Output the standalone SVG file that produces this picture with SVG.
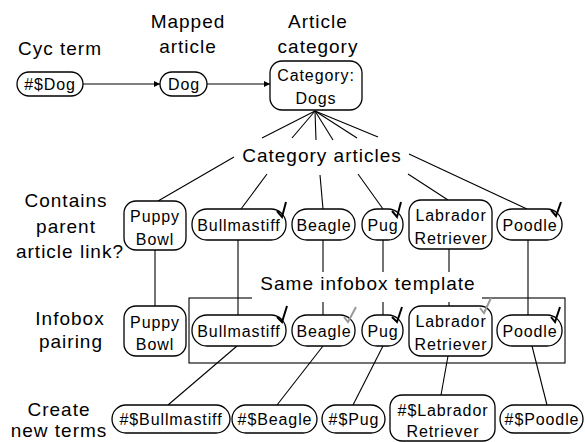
<svg xmlns="http://www.w3.org/2000/svg" width="585" height="442" viewBox="0 0 585 442">
<defs>
<style>
.lbl{font-family:"Liberation Sans",Arial,sans-serif;font-size:19px;letter-spacing:1px;fill:#000;text-anchor:middle}
.nt{font-family:"Liberation Sans",Arial,sans-serif;font-size:16px;letter-spacing:0.9px;fill:#000;text-anchor:middle}
.box{fill:#fff;stroke:#000;stroke-width:1.3}
.ln{stroke:#000;stroke-width:1.1;fill:none}
.tk{stroke:#000;stroke-width:2;fill:none;stroke-linejoin:miter}
.tkg{stroke:#999;stroke-width:2;fill:none}
</style>
<marker id="ah" viewBox="0 0 8 8" refX="8" refY="4" markerWidth="6" markerHeight="6" orient="auto" markerUnits="userSpaceOnUse">
<path d="M0,0 L8,4 L0,8 z" fill="#000"/>
</marker>
</defs>
<rect width="585" height="442" fill="#fff"/>

<g id="labels">
<text class="lbl" x="60" y="55">Cyc term</text>
<text class="lbl" x="188" y="28">Mapped</text>
<text class="lbl" x="188" y="53">article</text>
<text class="lbl" x="318" y="28">Article</text>
<text class="lbl" x="318" y="53">category</text>
<text class="lbl" x="66" y="207">Contains</text>
<text class="lbl" x="66" y="233">parent</text>
<text class="lbl" x="70" y="258">article link?</text>
<text class="lbl" x="70" y="325">Infobox</text>
<text class="lbl" x="71" y="348">pairing</text>
<text class="lbl" x="59" y="416">Create</text>
<text class="lbl" x="59" y="437">new terms</text>
</g>

<g id="connectors">
<line class="ln" x1="83" y1="84" x2="160" y2="84" marker-end="url(#ah)"/>
<line class="ln" x1="207" y1="84" x2="270" y2="84" marker-end="url(#ah)"/>
<line class="ln" x1="315" y1="111" x2="262" y2="138"/>
<line class="ln" x1="315" y1="111" x2="292" y2="138"/>
<line class="ln" x1="315" y1="111" x2="316" y2="140"/>
<line class="ln" x1="315" y1="111" x2="333" y2="140"/>
<line class="ln" x1="315" y1="111" x2="357" y2="138"/>
<line class="ln" x1="315" y1="111" x2="378" y2="137"/>
<line class="ln" x1="234" y1="157" x2="158" y2="201"/>
<line class="ln" x1="267" y1="174" x2="241" y2="209"/>
<line class="ln" x1="320" y1="175" x2="323" y2="209"/>
<line class="ln" x1="358" y1="174" x2="383" y2="209"/>
<line class="ln" x1="408" y1="174" x2="448" y2="200"/>
<line class="ln" x1="409" y1="154" x2="527" y2="209"/>
<line class="ln" x1="155" y1="250" x2="155" y2="306"/>
<line class="ln" x1="238" y1="240" x2="238" y2="315"/>
<line class="ln" x1="323" y1="240" x2="323" y2="315"/>
<line class="ln" x1="383" y1="240" x2="383" y2="315"/>
<line class="ln" x1="449" y1="249" x2="449" y2="306"/>
<line class="ln" x1="528" y1="240" x2="528" y2="315"/>
<rect class="ln" x="189" y="298" width="376" height="65"/>
<line class="ln" x1="237" y1="346" x2="168" y2="405"/>
<line class="ln" x1="323" y1="346" x2="277" y2="405"/>
<line class="ln" x1="383" y1="346" x2="353" y2="405"/>
<line class="ln" x1="448" y1="356" x2="441" y2="395"/>
<line class="ln" x1="532" y1="346" x2="547" y2="405"/>
</g>

<g id="category-articles-label">
<text class="lbl" x="322" y="162">Category articles</text>
</g>
<g id="same-infobox-label">
<rect x="252" y="272" width="230" height="30" fill="#fff"/>
<text class="lbl" x="368" y="290">Same infobox template</text>
</g>

<g id="n-cycdog"><rect class="box" x="17" y="72" width="66" height="24" rx="12"/><text class="nt" x="50" y="90">#$Dog</text></g>
<g id="n-dog"><rect class="box" x="160" y="72" width="47" height="24" rx="12"/><text class="nt" x="184" y="90">Dog</text></g>
<g id="n-catdogs"><rect class="box" x="270" y="61" width="92" height="49" rx="12"/><text class="nt" x="316" y="81">Category:</text><text class="nt" x="316" y="104">Dogs</text></g>

<g id="n-puppy1"><rect class="box" x="124" y="201" width="62" height="49" rx="12"/><text class="nt" x="155" y="222">Puppy</text><text class="nt" x="155" y="245">Bowl</text></g>
<g id="n-bull1"><rect class="box" x="192" y="209" width="94" height="31" rx="15"/><text class="nt" x="239" y="231">Bullmastiff</text><polyline class="tk" points="277,211 282,217 286,202"/></g>
<g id="n-beagle1"><rect class="box" x="292" y="209" width="63" height="31" rx="15"/><text class="nt" x="324" y="231">Beagle</text></g>
<g id="n-pug1"><rect class="box" x="362" y="209" width="41" height="31" rx="15"/><text class="nt" x="383" y="231">Pug</text><polyline class="tk" points="392,211 397,217 401,202"/></g>
<g id="n-lab1"><rect class="box" x="409" y="200" width="83" height="49" rx="12"/><text class="nt" x="451" y="221">Labrador</text><text class="nt" x="451" y="244">Retriever</text></g>
<g id="n-poodle1"><rect class="box" x="497" y="209" width="65" height="31" rx="15"/><text class="nt" x="530" y="231">Poodle</text><polyline class="tk" points="551,210 556,216 561,202"/></g>

<g id="n-puppy2"><rect class="box" x="124" y="306" width="62" height="50" rx="12"/><text class="nt" x="155" y="328">Puppy</text><text class="nt" x="155" y="350">Bowl</text></g>
<g id="n-bull2"><rect class="box" x="192" y="315" width="94" height="31" rx="15"/><text class="nt" x="239" y="337">Bullmastiff</text><polyline class="tk" points="277,317 282,322 287,306"/></g>
<g id="n-beagle2"><rect class="box" x="292" y="315" width="63" height="31" rx="15"/><text class="nt" x="324" y="337">Beagle</text><polyline class="tkg" points="344,317 348,322 356,307"/></g>
<g id="n-pug2"><rect class="box" x="362" y="315" width="41" height="31" rx="15"/><text class="nt" x="383" y="337">Pug</text><polyline class="tk" points="392,317 397,322 402,307"/></g>
<g id="n-lab2"><rect class="box" x="409" y="306" width="83" height="50" rx="12"/><text class="nt" x="451" y="327">Labrador</text><text class="nt" x="451" y="350">Retriever</text><polyline class="tkg" points="480,308 484,313 491,298"/></g>
<g id="n-poodle2"><rect class="box" x="497" y="315" width="65" height="31" rx="15"/><text class="nt" x="530" y="337">Poodle</text><polyline class="tk" points="551,317 555,322 560,307"/></g>

<g id="n-cycbull"><rect class="box" x="112" y="405" width="118" height="28" rx="14"/><text class="nt" x="171" y="425">#$Bullmastiff</text></g>
<g id="n-cycbeagle"><rect class="box" x="232" y="405" width="85" height="28" rx="14"/><text class="nt" x="275" y="425">#$Beagle</text></g>
<g id="n-cycpug"><rect class="box" x="322" y="405" width="63" height="28" rx="14"/><text class="nt" x="354" y="425">#$Pug</text></g>
<g id="n-cyclab"><rect class="box" x="390" y="395" width="105" height="46" rx="12"/><text class="nt" x="443" y="416">#$Labrador</text><text class="nt" x="443" y="437">Retriever</text></g>
<g id="n-cycpoodle"><rect class="box" x="500" y="405" width="83" height="28" rx="14"/><text class="nt" x="542" y="425">#$Poodle</text></g>
</svg>
